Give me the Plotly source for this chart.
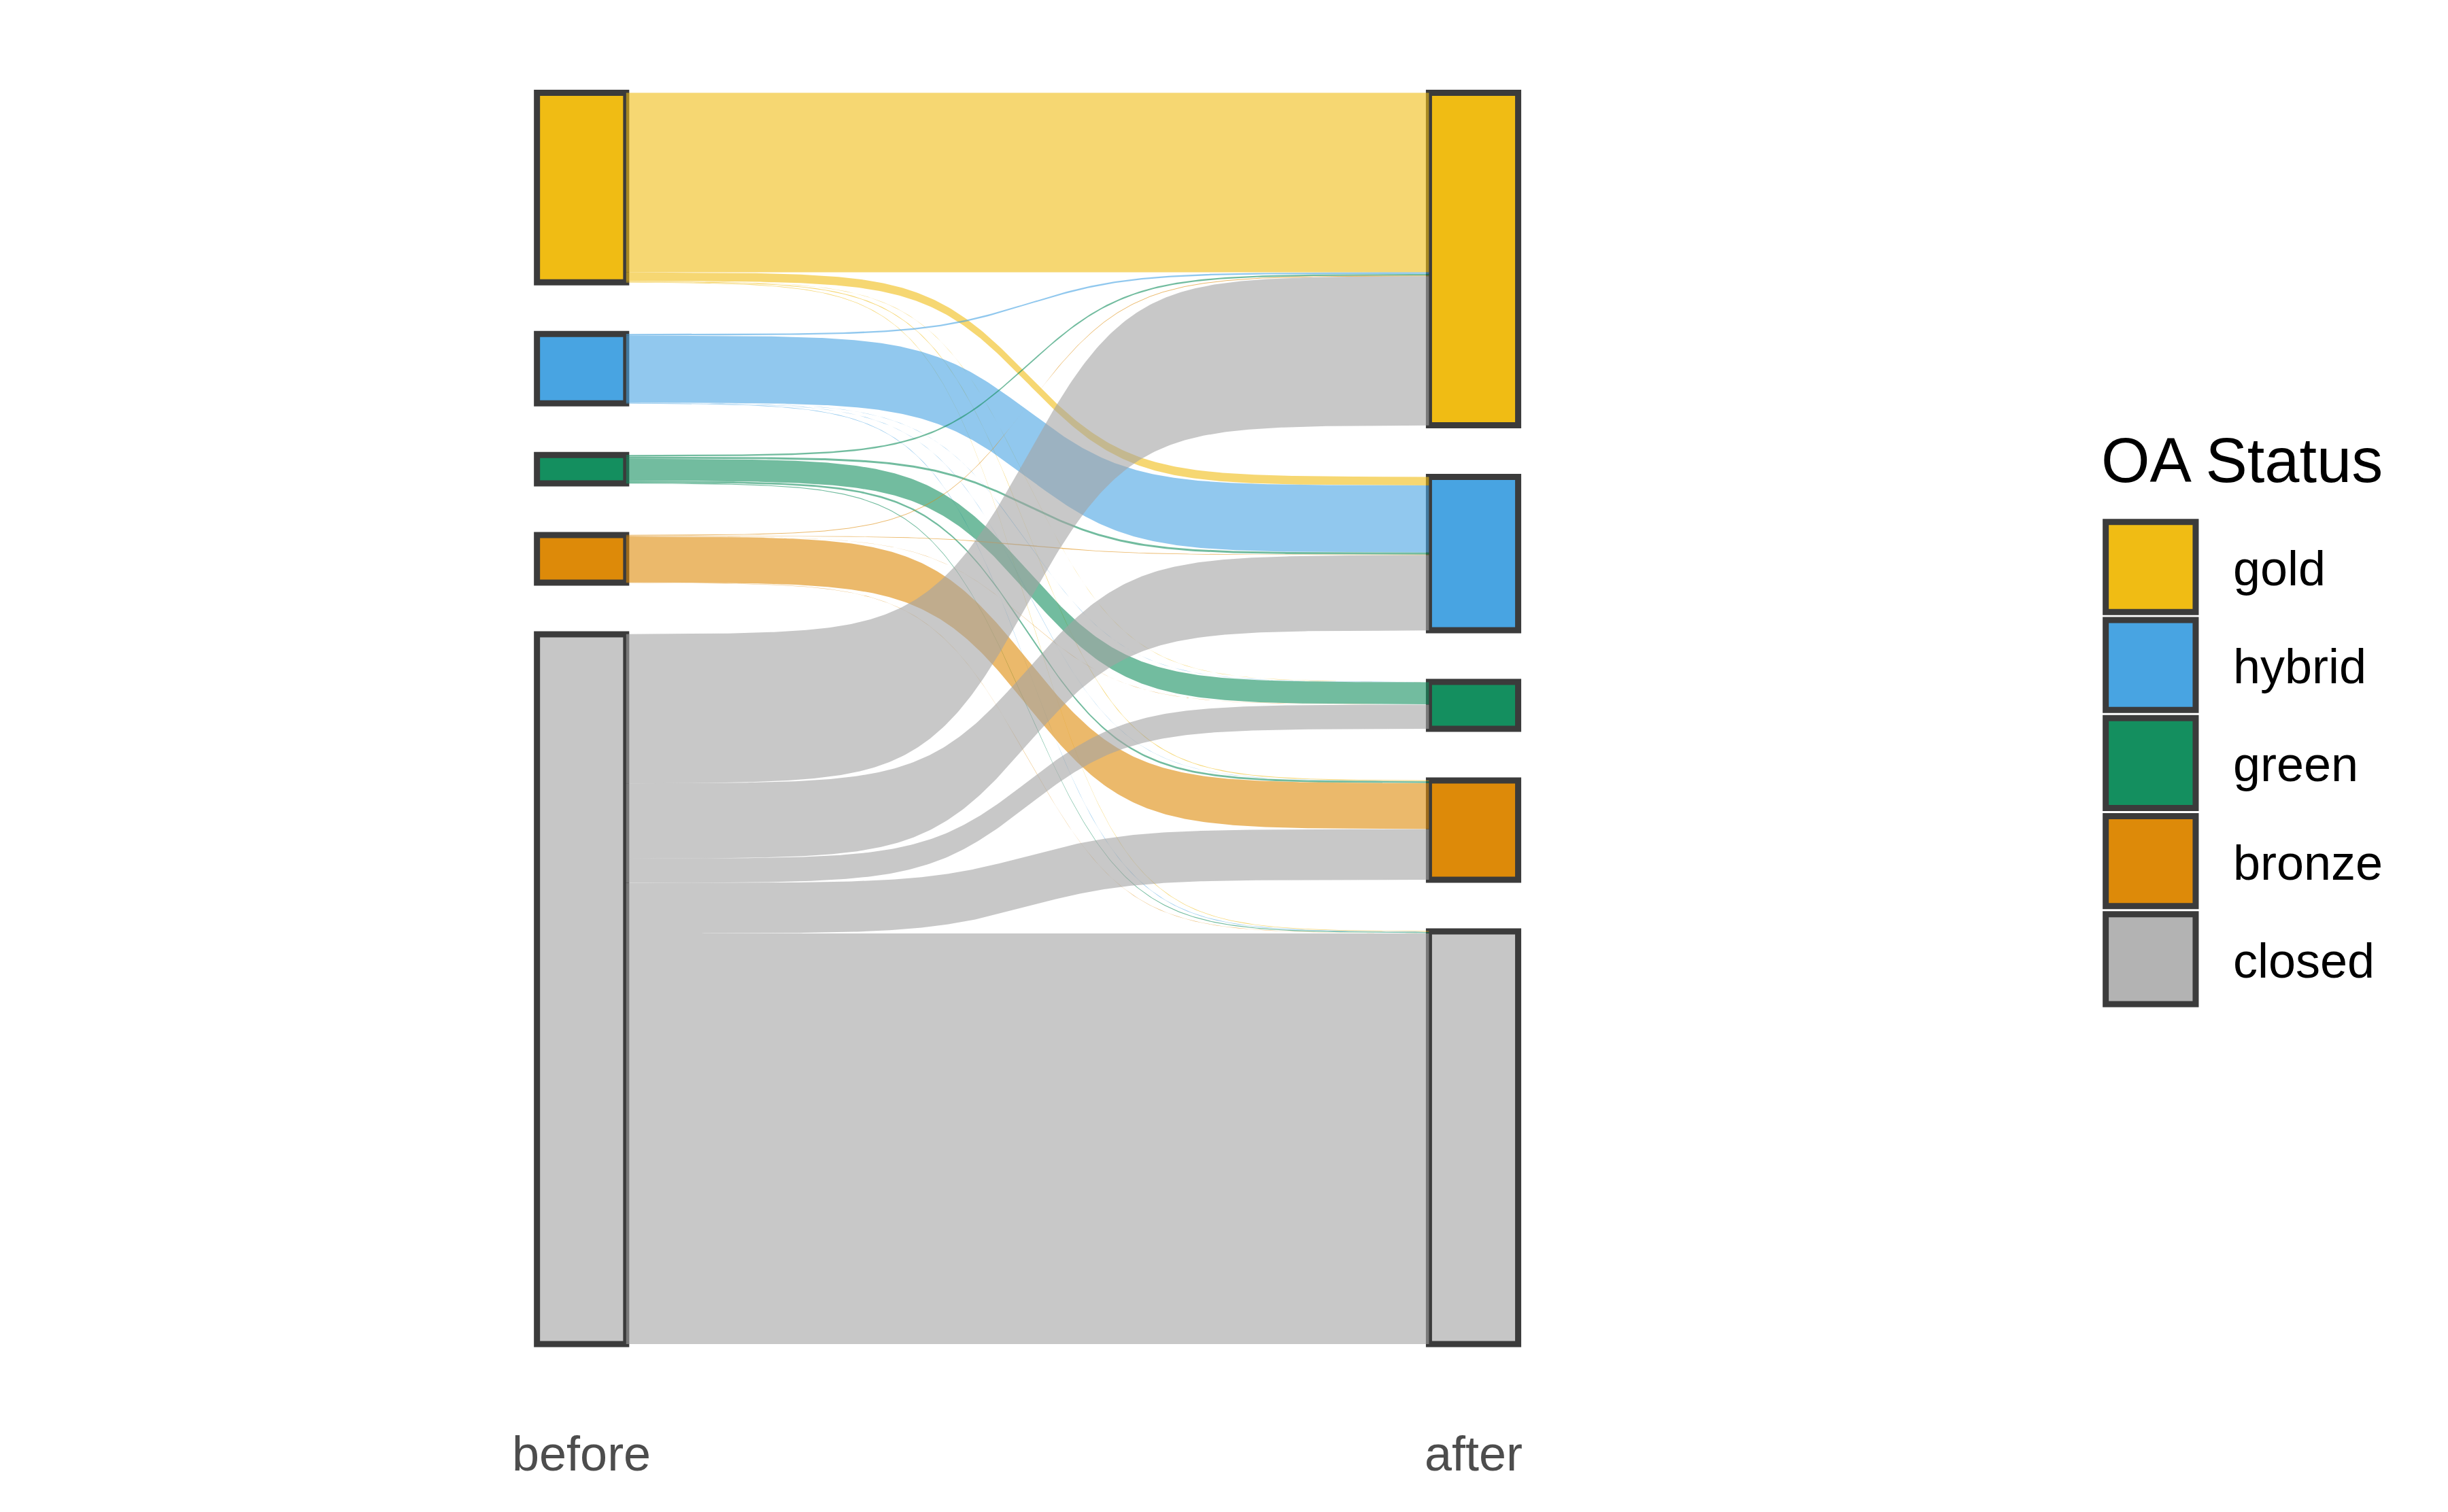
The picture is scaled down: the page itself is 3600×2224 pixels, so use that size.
import numpy as np
import plotly.graph_objects as go

# ---------------- data ----------------
statuses = ["gold", "hybrid", "green", "bronze", "closed"]
stages = ["before", "after"]

# number of items moving from a status "before" (one list per source)
# to each status "after" (order of `statuses`)
from_gold = [264.0, 12.6, 0.3, 1.0, 0.8]
from_hybrid = [2.3, 98.6, 0.2, 0.3, 0.7]
from_green = [2.3, 3.0, 32.5, 2.7, 1.2]
from_bronze = [1.0, 0.8, 0.2, 67.6, 0.4]
from_closed = [219.4, 110.6, 35.7, 74.3, 604.0]

legend_title = "OA Status"

# ---------------- styles ----------------
node_colors = ["#F0BC14", "#48A4E2", "#148F5F", "#DD8A09", "#C6C6C6"]
legend_colors = ["#F0BC14", "#48A4E2", "#148F5F", "#DD8A09", "#B3B3B3"]
flow_rgb = [(240, 188, 20), (72, 164, 226), (20, 143, 95), (221, 138, 9), (163, 163, 163)]
FLOW_ALPHA = 0.6
OUTLINE = "#3B3B3B"
OUTLINE_W = 9
NODE_W = 0.1
GAP = 76.0
SMOOTH = 8
FONT = "Liberation Sans, Arial, sans-serif"

W, H = 3600, 2224
OFF = 8  # page body margin in the browser


def px_x(p):
    return (p - OFF) / W


def px_y(p):
    return 1 - (p - OFF) / H


flows = np.array([from_gold, from_hybrid, from_green, from_bronze, from_closed])
n = len(statuses)
left_tot = flows.sum(axis=1)
right_tot = flows.sum(axis=0)


def stack_tops(vals):
    total = vals.sum() + GAP * (len(vals) - 1)
    tops = []
    y = total / 2.0
    for v in vals:
        tops.append(y)
        y -= v + GAP
    return np.array(tops)


left_top = stack_tops(left_tot)
right_top = stack_tops(right_tot)

fig = go.Figure()

# ---------------- flows (ggsankey-style sigmoid ribbons) ----------------
x0 = 1 + NODE_W / 2
x1 = 2 - NODE_W / 2
t = np.linspace(-SMOOTH, SMOOTH, 300)
sig = np.exp(t) / (np.exp(t) + 1)
xs = (t + SMOOTH) / (2 * SMOOTH) * (x1 - x0) + x0

for i in range(n):
    for j in range(n):
        v = flows[i, j]
        if v <= 0:
            continue
        ly = left_top[i] - flows[i, :j].sum()
        ry = right_top[j] - flows[:i, j].sum()
        top = ly + (ry - ly) * sig
        bot = (ly - v) + ((ry - v) - (ly - v)) * sig
        px = np.concatenate([xs, xs[::-1]])
        py = np.concatenate([top, bot[::-1]])
        r, g, b = flow_rgb[i]
        fig.add_trace(go.Scatter(
            x=px, y=py, mode="lines", fill="toself",
            line=dict(width=0), fillcolor=f"rgba({r},{g},{b},{FLOW_ALPHA})",
            hoverinfo="skip", showlegend=False,
        ))

# ---------------- nodes ----------------
for xpos, tops, tots in [(1, left_top, left_tot), (2, right_top, right_tot)]:
    fig.add_trace(go.Bar(
        x=[xpos] * n, y=tots, base=tops - tots, width=NODE_W,
        marker=dict(color=node_colors, line=dict(color=OUTLINE, width=OUTLINE_W)),
        showlegend=False, hoverinfo="skip",
    ))

# ---------------- stage labels ----------------
annotations = []
for k, s in enumerate(stages):
    annotations.append(dict(
        x=k + 1, y=px_y(2138), xref="x", yref="paper", text=s, showarrow=False,
        xanchor="center", yanchor="middle",
        font=dict(family=FONT, size=72, color="#4D4D4D"),
    ))

# ---------------- legend (drawn) ----------------
shapes = []
key_cx, key_cy0, key_pitch, key_size = 3162.8, 834.0, 144.2, 132.3
for k, s in enumerate(statuses):
    cy = key_cy0 + k * key_pitch
    shapes.append(dict(
        type="rect", xref="paper", yref="paper",
        x0=px_x(key_cx - key_size / 2), x1=px_x(key_cx + key_size / 2),
        y0=px_y(cy + key_size / 2), y1=px_y(cy - key_size / 2),
        fillcolor=legend_colors[k], line=dict(color=OUTLINE, width=OUTLINE_W),
    ))
    annotations.append(dict(
        x=px_x(3282), y=px_y(cy + 2), xref="paper", yref="paper", text=s,
        showarrow=False, xanchor="left", yanchor="middle",
        font=dict(family=FONT, size=72, color="#000000"),
    ))
annotations.append(dict(
    x=px_x(3088), y=px_y(677), xref="paper", yref="paper", text=legend_title,
    showarrow=False, xanchor="left", yanchor="middle",
    font=dict(family=FONT, size=92, color="#000000"),
))

col_span = left_tot.sum() + GAP * (n - 1)
top_px = 136.5 - OFF
y_hi = col_span / 2 + top_px
y_lo = y_hi - H
x_lo = 1 - (855.25 - OFF) / 1311.75
x_hi = x_lo + W / 1311.75

fig.update_layout(
    width=W, height=H, margin=dict(l=0, r=0, t=0, b=0),
    paper_bgcolor="white", plot_bgcolor="white",
    barmode="overlay", showlegend=False,
    xaxis=dict(range=[x_lo, x_hi], visible=False, fixedrange=True),
    yaxis=dict(range=[y_lo, y_hi], visible=False, fixedrange=True),
    shapes=shapes, annotations=annotations,
)

fig.write_html("out.html")
